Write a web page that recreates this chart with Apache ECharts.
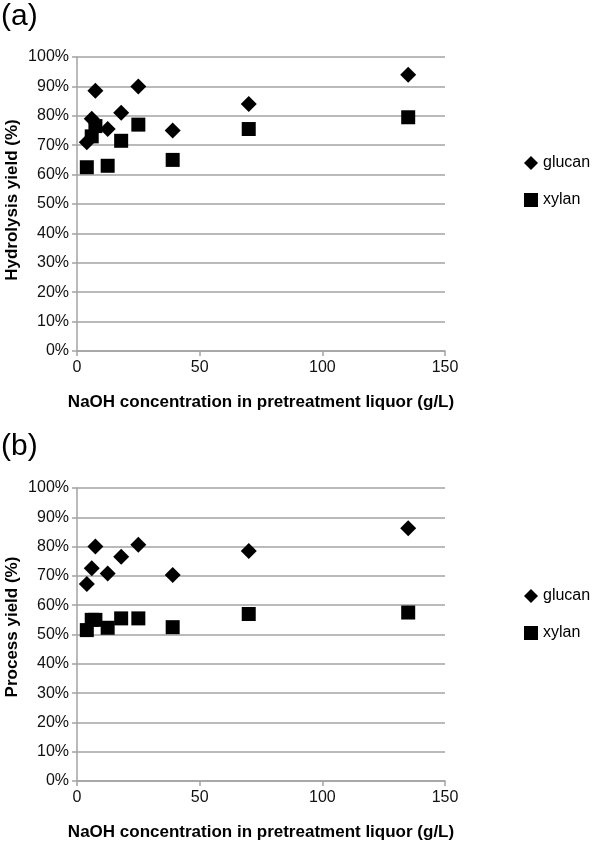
<!DOCTYPE html>
<html><head><meta charset="utf-8">
<script src="https://cdn.jsdelivr.net/npm/echarts@6/dist/echarts.min.js"></script>
<style>html,body{margin:0;padding:0;background:#fff}#c{width:600px;height:842px}</style>
</head><body><div id="c"></div>
<script>
const naoh = [4, 6, 7.5, 12.5, 18, 25, 39, 70, 135];
const hydGlucan = [71, 79, 88.5, 75.5, 81, 90, 75, 84, 94];
const hydXylan = [62.5, 73, 76.5, 63, 71.5, 77, 65, 75.5, 79.5];
const procGlucan = [67.2, 72.6, 80, 70.8, 76.5, 80.6, 70.3, 78.5, 86.3];
const procXylan = [51.5, 55, 55, 52.3, 55.5, 55.5, 52.5, 57, 57.5];
const seriesNames = ['glucan', 'xylan'];
const xTitle = 'NaOH concentration in pretreatment liquor (g/L)';
const yTitles = ['Hydrolysis yield (%)', 'Process yield (%)'];
const panelLabels = ['(a)', '(b)'];

const FONT = 'Liberation Sans, Arial, Helvetica, sans-serif';
const pairs = (xs, ys) => xs.map((x, i) => [x, ys[i]]);
const grids = [
  {left: 77, width: 368, top: 57, height: 294},
  {left: 77, width: 368, top: 488, height: 294}
];
const gridLineColor = '#a3a3a3';
function xAxis(i){
  return {type:'value', gridIndex:i, min:0, max:150, interval:50,
    axisLine:{show:true, onZero:false, lineStyle:{color:gridLineColor, width:1.5}},
    axisTick:{show:true, length:5, lineStyle:{color:gridLineColor, width:1.5}},
    splitLine:{show:false},
    axisLabel:{color:'#111', fontSize:16, fontFamily:FONT, margin:9},
    name:xTitle, nameLocation:'middle', nameGap:43,
    nameTextStyle:{color:'#000', fontSize:17, fontWeight:'bold', fontFamily:FONT}};
}
function yAxis(i){
  return {type:'value', gridIndex:i, min:0, max:100, interval:10,
    axisLine:{show:true, lineStyle:{color:gridLineColor, width:1.5}},
    axisTick:{show:true, length:5, lineStyle:{color:gridLineColor, width:1.5}},
    splitLine:{show:true, lineStyle:{color:gridLineColor, width:1.5}},
    axisLabel:{color:'#111', fontSize:16, fontFamily:FONT, margin:8, formatter:v=>v+'%'}};
}
function legend(top){
  return {orient:'vertical', left:519, top:top, itemWidth:14, itemHeight:14, itemGap:21,
    textStyle:{color:'#000', fontSize:16, fontFamily:FONT},
    data:[{name:'glucan', icon:'diamond'},{name:'xylan', icon:'rect'}]};
}
const mk = {color:'#000', opacity:1};
const chart = echarts.init(document.getElementById('c'), null, {renderer:'canvas'});
chart.setOption({
  animation:false,
  backgroundColor:'#fff',
  grid: grids,
  xAxis:[xAxis(0), xAxis(1)],
  yAxis:[yAxis(0), yAxis(1)],
  legend:[legend(150), legend(583)],
  series:[
    {name:seriesNames[0], type:'scatter', xAxisIndex:0, yAxisIndex:0, symbol:'diamond', symbolSize:16, itemStyle:mk, data:pairs(naoh, hydGlucan)},
    {name:seriesNames[1], type:'scatter', xAxisIndex:0, yAxisIndex:0, symbol:'rect', symbolSize:14, itemStyle:mk, data:pairs(naoh, hydXylan)},
    {name:seriesNames[0], type:'scatter', xAxisIndex:1, yAxisIndex:1, symbol:'diamond', symbolSize:16, itemStyle:mk, data:pairs(naoh, procGlucan)},
    {name:seriesNames[1], type:'scatter', xAxisIndex:1, yAxisIndex:1, symbol:'rect', symbolSize:14, itemStyle:mk, data:pairs(naoh, procXylan)}
  ],
  graphic:[
    {type:'text', left:1, top:2, style:{text:panelLabels[0], font:'30px '+FONT, fill:'#000'}},
    {type:'text', left:1, top:432, style:{text:panelLabels[1], font:'30px '+FONT, fill:'#000'}},
    {type:'text', x:12, y:200, rotation:Math.PI/2, style:{text:yTitles[0], font:'bold 17px '+FONT, fill:'#000', textAlign:'center', textVerticalAlign:'middle'}},
    {type:'text', x:12, y:627, rotation:Math.PI/2, style:{text:yTitles[1], font:'bold 17px '+FONT, fill:'#000', textAlign:'center', textVerticalAlign:'middle'}}
  ]
});
</script></body></html>
